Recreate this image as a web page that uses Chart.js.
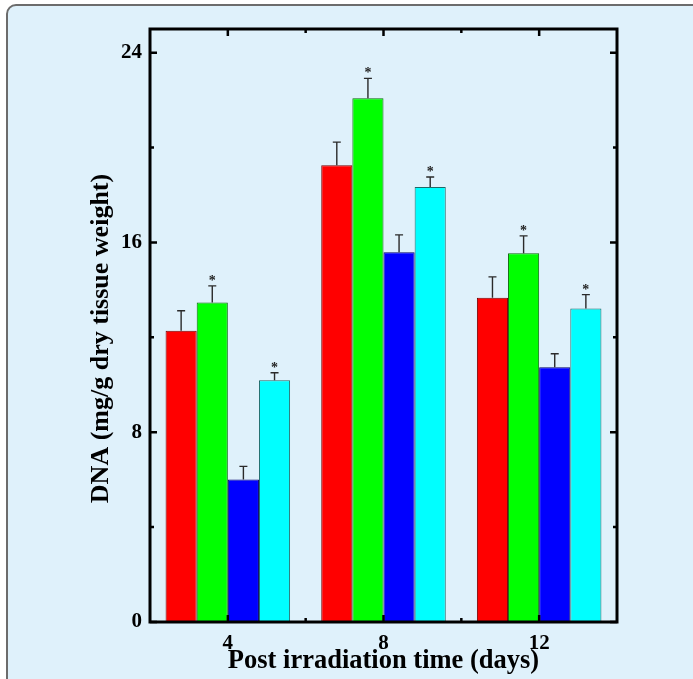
<!DOCTYPE html>
<html><head><meta charset="utf-8">
<script src="https://cdn.jsdelivr.net/npm/chart.js@4"></script>
<style>
html,body{margin:0;padding:0;background:#ffffff;width:693px;height:679px;overflow:hidden}
#panel{position:absolute;left:6px;top:4px;width:730px;height:730px;border:2px solid #6c6c6c;border-radius:10px;background:#dff1fb;box-sizing:border-box}
#wrap{position:absolute;left:0;top:0;width:693px;height:679px}
</style></head><body>
<div id="panel"></div>
<div id="wrap"><canvas id="c" width="693" height="679"></canvas></div>
<script>
// ---- data ----
const categories = ['4', '8', '12'];
const redValues   = [12.28, 19.26, 13.67];
const redErrors   = [0.84, 0.97, 0.88];
const greenValues = [13.47, 22.08, 15.55];
const greenErrors = [0.70, 0.84, 0.73];
const blueValues  = [6.01, 15.59, 10.74];
const blueErrors  = [0.55, 0.73, 0.57];
const cyanValues  = [10.19, 18.34, 13.22];
const cyanErrors  = [0.32, 0.42, 0.58];
const redStars   = [false, false, false];
const greenStars = [true, true, true];
const blueStars  = [false, false, false];
const cyanStars  = [true, true, true];
const yMin = 0, yMax = 25, yStep = 4, yLabelEvery = 8;
const xTitle = 'Post irradiation time (days)';
const yTitle = 'DNA (mg/g dry tissue weight)';

const FONT = "'Liberation Serif', 'DejaVu Serif', serif";
const errorSets = [redErrors, greenErrors, blueErrors, cyanErrors];
const starSets = [redStars, greenStars, blueStars, cyanStars];

const framePlugin = {
  id: 'frame',
  afterDatasetsDraw(chart) {
    const {ctx, chartArea: a, scales: {x, y}} = chart;
    ctx.save();
    // error bars and stars
    chart.data.datasets.forEach((ds, di) => {
      const meta = chart.getDatasetMeta(di);
      meta.data.forEach((bar, i) => {
        const v = ds.data[i], e = errorSets[di][i];
        const yBar = y.getPixelForValue(v);
        const yTop = y.getPixelForValue(v + e);
        ctx.strokeStyle = '#2a2a2a';
        ctx.lineWidth = 1.4;
        ctx.beginPath();
        ctx.moveTo(bar.x, yBar); ctx.lineTo(bar.x, yTop);
        ctx.moveTo(bar.x - 4, yTop); ctx.lineTo(bar.x + 4, yTop);
        ctx.stroke();
        if (starSets[di][i]) {
          ctx.fillStyle = '#222';
          ctx.font = 'bold 14px ' + FONT;
          ctx.textAlign = 'center';
          ctx.textBaseline = 'alphabetic';
          ctx.fillText('*', bar.x, yTop - 1);
        }
      });
    });
    // frame
    ctx.strokeStyle = '#000';
    ctx.lineWidth = 3;
    ctx.strokeRect(a.left, a.top, a.right - a.left, a.bottom - a.top);
    // y ticks (left and right, inward)
    ctx.lineWidth = 2.5;
    ctx.beginPath();
    y.ticks.forEach(t => {
      const py = y.getPixelForValue(t.value);
      const len = (t.value % yLabelEvery === 0) ? 7 : 4;
      ctx.moveTo(a.left, py); ctx.lineTo(a.left + len, py);
      ctx.moveTo(a.right, py); ctx.lineTo(a.right - len, py);
    });
    // x ticks (bottom and top, inward)
    for (let i = 0; i < categories.length; i++) {
      const px = x.getPixelForValue(i);
      ctx.moveTo(px, a.bottom); ctx.lineTo(px, a.bottom - 7);
      ctx.moveTo(px, a.top); ctx.lineTo(px, a.top + 7);
      if (i < categories.length - 1) {
        const mx = (px + x.getPixelForValue(i + 1)) / 2;
        ctx.moveTo(mx, a.bottom); ctx.lineTo(mx, a.bottom - 4);
        ctx.moveTo(mx, a.top); ctx.lineTo(mx, a.top + 4);
      }
    }
    ctx.stroke();
    // y axis title
    ctx.save();
    ctx.translate(108, 338.5);
    ctx.rotate(-Math.PI / 2);
    ctx.fillStyle = '#000';
    ctx.font = 'bold 26px ' + FONT;
    ctx.textAlign = 'center';
    ctx.textBaseline = 'alphabetic';
    ctx.fillText(chart.options.scales.y.title.text, 0, 0);
    ctx.restore();
    ctx.restore();
  }
};

const mk = (label, data, bg, border) => ({
  label, data, backgroundColor: bg, borderColor: border, borderWidth: 1,
  categoryPercentage: 0.8, barPercentage: 1.0
});

new Chart(document.getElementById('c'), {
  type: 'bar',
  data: {
    labels: categories,
    datasets: [
      mk('Red', redValues, '#ff0000', '#7a0000'),
      mk('Green', greenValues, '#00ff00', '#0a6a0a'),
      mk('Blue', blueValues, '#0000ff', '#00006a'),
      mk('Cyan', cyanValues, '#00ffff', '#206868')
    ]
  },
  options: {
    responsive: false,
    animation: false,
    devicePixelRatio: 1,
    layout: {padding: {left: 0, top: 29, right: 76, bottom: 0}},
    plugins: {legend: {display: false}, tooltip: {enabled: false}},
    scales: {
      x: {
        grid: {display: false, drawTicks: false},
        border: {display: false},
        ticks: {color: '#000', font: {family: FONT, size: 21, weight: 'bold'}, padding: 9, maxRotation: 0},
        title: {display: true, text: xTitle, color: '#000',
                font: {family: FONT, size: 26.5, weight: 'bold', lineHeight: 1},
                padding: {top: 0, bottom: 5}},
        afterFit(s) { s.height = 57; }
      },
      y: {
        min: yMin, max: yMax,
        grid: {display: false, drawTicks: false},
        border: {display: false},
        ticks: {
          stepSize: yStep, includeBounds: false, color: '#000', padding: 8,
          font: {family: FONT, size: 21, weight: 'bold'},
          callback: v => (v % yLabelEvery === 0 ? String(v) : '')
        },
        title: {display: false, text: yTitle},
        afterFit(s) { s.width = 150; }
      }
    }
  },
  plugins: [framePlugin]
});
</script>
</body></html>
